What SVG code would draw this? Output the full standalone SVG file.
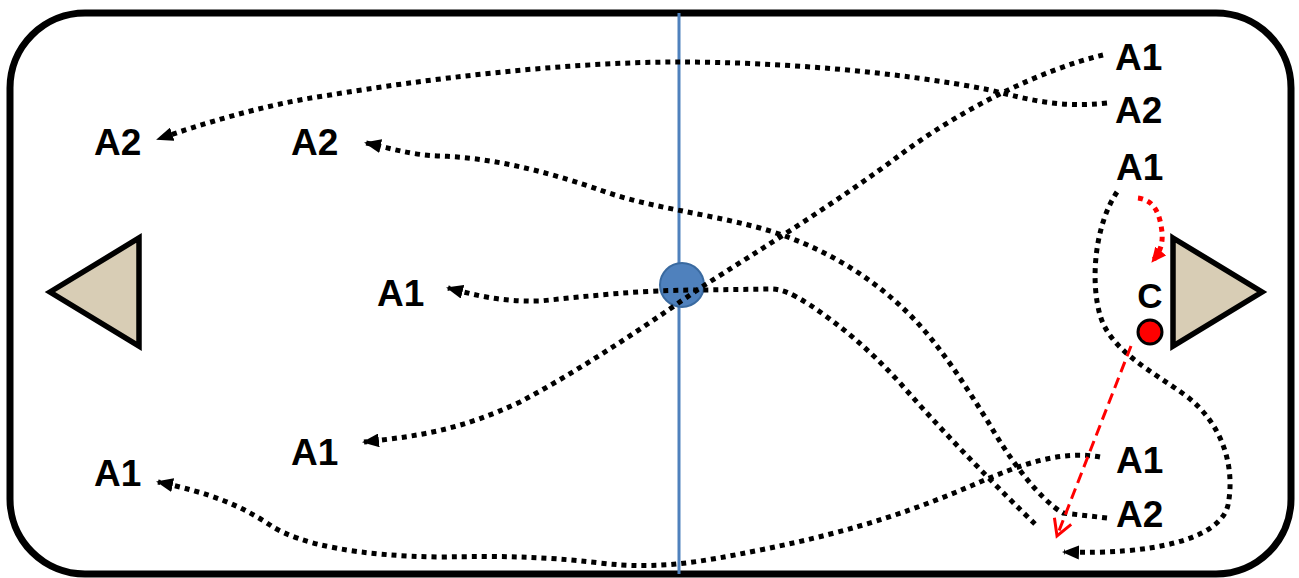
<svg xmlns="http://www.w3.org/2000/svg" width="1299" height="578" viewBox="0 0 1299 578">
<style>
.lbl{font-family:"Liberation Sans",Arial,sans-serif;font-weight:bold;font-size:37px;fill:#000}
text.c{font-size:35px}
.dot{fill:none;stroke:#000;stroke-width:5;stroke-dasharray:5 5}
.tri{fill:#d8cdb5;stroke:#000;stroke-width:5.5;stroke-linejoin:miter}
</style>
<defs>
<marker id="ah" markerUnits="userSpaceOnUse" markerWidth="18" markerHeight="14" refX="15" refY="7" orient="auto">
<path d="M0,0 L17,7 L0,14 z" fill="#000"/>
</marker>
<marker id="ahr" markerUnits="userSpaceOnUse" markerWidth="16" markerHeight="14" refX="14" refY="7" orient="auto">
<path d="M0,0 L15,7 L0,14 z" fill="#f00"/>
</marker>
<marker id="ahro" markerUnits="userSpaceOnUse" markerWidth="22" markerHeight="22" refX="18" refY="11" orient="auto">
<path d="M2,2 L18,11 L2,20" fill="none" stroke="#f00" stroke-width="3"/>
</marker>
</defs>
<rect id="rink" x="10" y="13" width="1281" height="561" rx="75" ry="75" fill="#fff" stroke="#000" stroke-width="7"/>
<line id="centerline" x1="679" y1="13" x2="679" y2="574" stroke="#4f81bd" stroke-width="3"/>
<g id="puck"><circle cx="682" cy="285" r="22" fill="#4f81bd" stroke="#3a6aa0" stroke-width="2"/></g>
<g id="goal-left"><polygon class="tri" points="50,292 139,238 139,346"/></g>
<g id="goal-right"><polygon class="tri" points="1173,238 1262,292 1173,346"/></g>
<g id="connectors">
<path class="dot" marker-end="url(#ah)" d="M1107,103 C1060,108 1030,100 990,90 C900,72 780,62 680,62 C560,62 420,80 330,95 C260,105 200,125 158,139"/>
<path class="dot" marker-end="url(#ah)" d="M1103,55 C1040,70 960,110 900,155 C840,200 760,250 700,288 C640,330 580,370 520,402 C460,430 420,436 364,442"/>
<path class="dot" marker-end="url(#ah)" d="M1117,192 C1095,225 1090,280 1100,315 C1110,350 1150,370 1185,395 C1225,425 1235,470 1228,505 C1220,540 1150,555 1064,552"/>
<path class="dot" marker-end="url(#ah)" d="M1100,457 C1060,450 1020,465 980,482 C920,508 860,530 760,550 C700,562 660,570 600,563 C540,556 500,556 440,557 C360,556 300,545 270,525 C240,505 210,493 158,482"/>
<path class="dot" marker-end="url(#ah)" d="M1107,518 L1063,513 C1040,500 1010,460 990,425 C965,385 940,345 910,315 C870,275 820,245 760,228 C700,212 650,208 600,190 C560,176 500,158 440,156 C410,155 390,148 366,143"/>
<path class="dot" marker-end="url(#ah)" d="M1035,524 C1000,490 950,440 900,383 C870,350 840,325 810,305 C790,292 780,289 770,289 L700,290 C640,290 590,296 540,301 C500,302 475,295 448,288"/>
<path fill="none" stroke="#f00" stroke-width="5" stroke-dasharray="5 5" marker-end="url(#ahr)" d="M1138,198 C1155,200 1160,215 1162,232 C1163,245 1160,252 1152,262"/>
<path fill="none" stroke="#f00" stroke-width="3" stroke-dasharray="11 6" marker-end="url(#ahro)" d="M1131,346 L1057,536"/>
</g>
<g id="player-c"><circle cx="1150" cy="332" r="12" fill="#f00" stroke="#000" stroke-width="3"/><text class="lbl c" x="1150" y="308" text-anchor="middle">C</text></g>
<g id="labels">
<text class="lbl" x="1115" y="70">A1</text>
<text class="lbl" x="1115" y="123">A2</text>
<text class="lbl" x="1116" y="180">A1</text>
<text class="lbl" x="94" y="155">A2</text>
<text class="lbl" x="291" y="155">A2</text>
<text class="lbl" x="377" y="306">A1</text>
<text class="lbl" x="291" y="465">A1</text>
<text class="lbl" x="94" y="486">A1</text>
<text class="lbl" x="1116" y="473">A1</text>
<text class="lbl" x="1116" y="527">A2</text>
</g>
</svg>
